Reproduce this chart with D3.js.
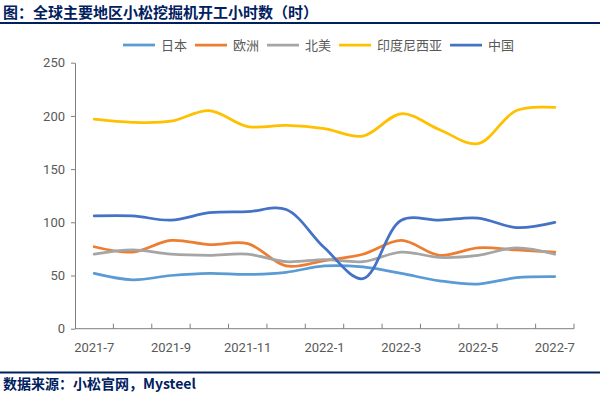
<!DOCTYPE html>
<html>
<head>
<meta charset="utf-8">
<script src="https://cdn.jsdelivr.net/npm/d3@7/dist/d3.min.js"></script>
<style>
  body { margin: 0; background: #fff; }
  svg { display: block; font-family: "Noto Sans CJK SC", "Microsoft YaHei", sans-serif; }
</style>
</head>
<body>
<div id="chart"></div>
<script>
// months on the category axis
var months = ["2021-7","2021-8","2021-9","2021-10","2021-11","2021-12","2022-1",
              "2022-2","2022-3","2022-4","2022-5","2022-6","2022-7"];
var tickLabels = ["2021-7","2021-9","2021-11","2022-1","2022-3","2022-5","2022-7"];
var yTicks = [0, 50, 100, 150, 200, 250];

// hours per region
var japan     = [52, 46, 50, 52, 51, 53, 59, 58, 52, 45, 42, 48, 49];
var europe    = [77, 72, 83, 79, 80, 59, 64, 70, 83, 69, 76, 74, 72];
var northAm   = [70, 74, 70, 69, 70, 63, 65, 63, 72, 67, 69, 76, 70];
var indonesia = [197, 194, 195, 205, 190, 191, 188, 181, 202, 187, 174, 205, 208];
var china     = [106, 106, 102, 109, 110, 112, 76, 47, 102, 102, 104, 95, 100];

var seriesNames  = ["日本", "欧洲", "北美", "印度尼西亚", "中国"];
var seriesValues = [japan, europe, northAm, indonesia, china];
var seriesColors = ["#5B9BD5", "#ED7D31", "#A5A5A5", "#FFC000", "#4472C4"];

var W = 600, H = 396;
var svg = d3.select("#chart").append("svg")
  .attr("width", W).attr("height", H);

// title + rules
svg.append("text")
  .attr("x", 3).attr("y", 18)
  .attr("fill", "#002060")
  .attr("font-size", 15).attr("font-weight", "bold")
  .text("图：全球主要地区小松挖掘机开工小时数（时）");
svg.append("line")
  .attr("x1", 0).attr("x2", W).attr("y1", 23).attr("y2", 23)
  .attr("stroke", "#002060").attr("stroke-width", 2);
svg.append("line")
  .attr("x1", 0).attr("x2", W).attr("y1", 372.5).attr("y2", 372.5)
  .attr("stroke", "#002060").attr("stroke-width", 2);
svg.append("text")
  .attr("x", 3).attr("y", 389)
  .attr("fill", "#002060")
  .attr("font-size", 14).attr("font-weight", "bold")
  .text("数据来源：小松官网，Mysteel");

var plotLeft = 75, plotRight = 574, plotTop = 62.7, plotBottom = 328.7;

var x = d3.scaleBand().domain(months).range([plotLeft, plotRight]);
var y = d3.scaleLinear().domain([0, 250]).range([plotBottom, plotTop]);

// y axis
var yAxis = svg.append("g")
  .attr("transform", "translate(" + plotLeft + ",0)")
  .call(d3.axisLeft(y).tickValues(yTicks).tickSize(4).tickSizeOuter(0).tickPadding(6));
yAxis.select(".domain").attr("stroke", "#7f7f7f");
yAxis.selectAll(".tick line").attr("stroke", "#7f7f7f");
yAxis.selectAll("text").attr("fill", "#595959").attr("font-size", 13)
  .attr("font-family", "Roboto, 'Noto Sans', sans-serif");

// x axis: ticks between categories, pointing inward
var xAxis = svg.append("g")
  .attr("transform", "translate(0," + plotBottom + ")");
xAxis.append("line")
  .attr("x1", plotLeft).attr("x2", plotRight)
  .attr("stroke", "#7f7f7f");
xAxis.selectAll(".tk")
  .data(months)
  .join("line")
  .attr("class", "tk")
  .attr("x1", function(d){ return x(d) + x.bandwidth(); })
  .attr("x2", function(d){ return x(d) + x.bandwidth(); })
  .attr("y1", 0).attr("y2", -5)
  .attr("stroke", "#7f7f7f");
xAxis.selectAll(".lbl")
  .data(tickLabels)
  .join("text")
  .attr("class", "lbl")
  .attr("x", function(d){ return x(d) + x.bandwidth() / 2; })
  .attr("y", 23)
  .attr("text-anchor", "middle")
  .attr("fill", "#595959").attr("font-size", 13)
  .attr("font-family", "Roboto, 'Noto Sans', sans-serif")
  .text(function(d){ return d; });

// lines
var line = d3.line()
  .x(function(d, i){ return x(months[i]) + x.bandwidth() / 2; })
  .y(function(d){ return y(d); })
  .curve(d3.curveCatmullRom.alpha(0.5));

seriesValues.forEach(function(vals, i) {
  svg.append("path")
    .datum(vals)
    .attr("d", line)
    .attr("fill", "none")
    .attr("stroke", seriesColors[i])
    .attr("stroke-width", 2.75)
    .attr("stroke-linecap", "round");
});

// legend
var legend = svg.append("g");
var lx = 123;
seriesNames.forEach(function(name, i) {
  legend.append("line")
    .attr("x1", lx).attr("x2", lx + 32).attr("y1", 45).attr("y2", 45)
    .attr("stroke", seriesColors[i]).attr("stroke-width", 2.75);
  var t = legend.append("text")
    .attr("x", lx + 38).attr("y", 50)
    .attr("fill", "#595959").attr("font-size", 13)
    .text(name);
  lx += 38 + t.node().getComputedTextLength() + 8;
});
</script>
</body>
</html>
